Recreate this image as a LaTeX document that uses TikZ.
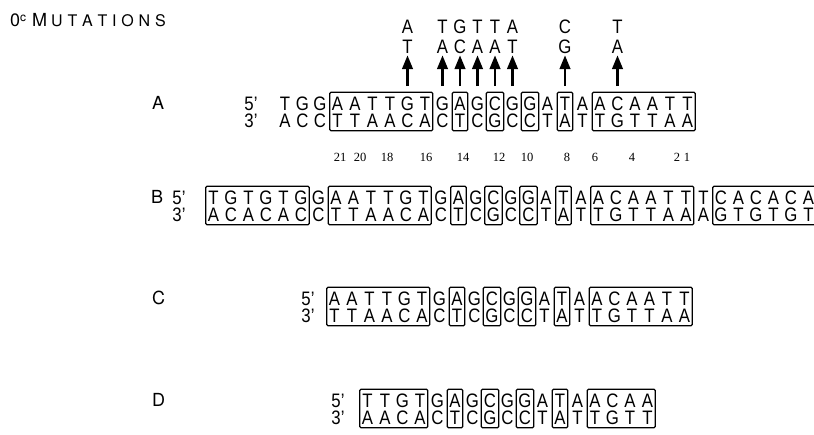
\documentclass[tikz,border=0pt]{standalone}
\usepackage{fontspec}
\setmainfont{TeX Gyre Heros}
\newfontfamily\seqfont[FakeStretch=0.86]{Liberation Sans}
\newfontfamily\numfont{Liberation Serif}
\usetikzlibrary{fit,arrows.meta}

\tikzset{
  base/.style={font=\seqfont\fontsize{19.5}{19.5}\selectfont, inner sep=0pt,
    minimum width=11pt, text height=14pt, text depth=0pt, minimum height=14pt},
  seqbox/.style={draw, line width=1.2pt, rounded corners=1.2pt,
    inner xsep=2pt, inner ysep=3.5pt},
  rowlabel/.style={font=\fontsize{18}{18}\selectfont, anchor=west, inner sep=0pt},
  posnum/.style={font=\numfont\fontsize{12.5}{12.5}\selectfont, inner sep=0pt},
  mutarrow/.style={line width=2.8pt, -{Triangle[length=14pt,width=10.5pt]}, shorten >=2pt}
}

% #1 row prefix, #2 x offset, #3 y of 5' strand, #4 first index, #5 list top/bottom
\newcommand\seqrow[5]{%
  \foreach \t/\b [count=\k from #4] in {#5} {
    \node[base] (#1t\k) at ({215+17.5*\k+#2},{#3}) {\t};
    \node[base] (#1b\k) at ({215+17.5*\k+#2},{#3+17}) {\b};
  }}

\begin{document}
\begin{tikzpicture}[x=1pt,y=-1pt]
\useasboundingbox (0,0) rectangle (814,434);
\clip (0,0) rectangle (814,434);

% title
\node[anchor=west, inner sep=0pt] (title) at (10,20)
  {\fontsize{18}{18}\selectfont 0\raisebox{4.5pt}{\fontsize{12}{12}\selectfont c}\hspace{6pt}M\kern4pt{\fontsize{16}{16}\selectfont U\kern4.8pt T\kern4.8pt A\kern4.8pt T\kern4.8pt I\kern4.8pt O\kern4.8pt N\kern4.8pt S}};

% row labels
\node[rowlabel] (labA) at (152,103) {A};
\node[rowlabel] (labB) at (151,197) {B};
\node[rowlabel] (labC) at (152,298) {C};
\node[rowlabel] (labD) at (152,400) {D};

% strand ends
\node[base] (A5) at (251,103) {5’};
\node[base] (A3) at (251,120) {3’};
\node[base] (B5) at (179,197) {5’};
\node[base] (B3) at (179,214) {3’};
\node[base] (C5) at (308,298) {5’};
\node[base] (C3) at (308,315) {3’};
\node[base] (D5) at (338,400) {5’};
\node[base] (D3) at (338,417) {3’};

% row A
\seqrow{A}{0}{103}{4}{T/A,G/C,G/C,A/T,A/T,T/A,T/A,G/C,T/A,G/C,A/T,G/C,C/G,G/C,G/C,A/T,T/A,A/T,A/T,C/G,A/T,A/T,T/A,T/A}
\node[seqbox, fit=(At7)(Ab12)] (Abox1) {};
\node[seqbox, fit=(At14)(Ab14)] (Abox2) {};
\node[seqbox, fit=(At16)(Ab16)] (Abox3) {};
\node[seqbox, fit=(At18)(Ab18)] (Abox4) {};
\node[seqbox, fit=(At20)(Ab20)] (Abox5) {};
\node[seqbox, fit=(At22)(Ab27)] (Abox6) {};

% mutations above row A
\foreach \k/\u/\l in {11/A/T,13/T/A,14/G/C,15/T/A,16/T/A,17/A/T,20/C/G,23/T/A} {
  \node[base] (mu\k) at ({215+17.5*\k},26) {\u};
  \node[base] (ml\k) at ({215+17.5*\k},46) {\l};
  \coordinate (tail\k) at ({215+17.5*\k},86);
  \draw[mutarrow] (tail\k) -- (ml\k.south);
}

% position numbers
\foreach \n/\x in {21/340,20/360,18/387,16/426,14/463,12/499,10/527,8/567,6/595,4/632,2/677,1/687} {
  \node[posnum] (num\n) at (\x,157) {\n};
}

% row B
\seqrow{B}{-1.5}{197}{0}{T/A,G/C,T/A,G/C,T/A,G/C,G/C,A/T,A/T,T/A,T/A,G/C,T/A,G/C,A/T,G/C,C/G,G/C,G/C,A/T,T/A,A/T,A/T,C/G,A/T,A/T,T/A,T/A,T/A,C/G,A/T,C/G,A/T,C/G,A/T}
\node[seqbox, fit=(Bt0)(Bb5)] (Bbox0) {};
\node[seqbox, fit=(Bt7)(Bb12)] (Bbox1) {};
\node[seqbox, fit=(Bt14)(Bb14)] (Bbox2) {};
\node[seqbox, fit=(Bt16)(Bb16)] (Bbox3) {};
\node[seqbox, fit=(Bt18)(Bb18)] (Bbox4) {};
\node[seqbox, fit=(Bt20)(Bb20)] (Bbox5) {};
\node[seqbox, fit=(Bt22)(Bb27)] (Bbox6) {};
\node[seqbox, fit=(Bt29)(Bb34)] (Bbox7) {};

% row C
\seqrow{C}{-3}{298}{7}{A/T,A/T,T/A,T/A,G/C,T/A,G/C,A/T,G/C,C/G,G/C,G/C,A/T,T/A,A/T,A/T,C/G,A/T,A/T,T/A,T/A}
\node[seqbox, fit=(Ct7)(Cb12)] (Cbox1) {};
\node[seqbox, fit=(Ct14)(Cb14)] (Cbox2) {};
\node[seqbox, fit=(Ct16)(Cb16)] (Cbox3) {};
\node[seqbox, fit=(Ct18)(Cb18)] (Cbox4) {};
\node[seqbox, fit=(Ct20)(Cb20)] (Cbox5) {};
\node[seqbox, fit=(Ct22)(Cb27)] (Cbox6) {};

% row D
\seqrow{D}{-5}{400}{9}{T/A,T/A,G/C,T/A,G/C,A/T,G/C,C/G,G/C,G/C,A/T,T/A,A/T,A/T,C/G,A/T,A/T}
\node[seqbox, fit=(Dt9)(Db12)] (Dbox1) {};
\node[seqbox, fit=(Dt14)(Db14)] (Dbox2) {};
\node[seqbox, fit=(Dt16)(Db16)] (Dbox3) {};
\node[seqbox, fit=(Dt18)(Db18)] (Dbox4) {};
\node[seqbox, fit=(Dt20)(Db20)] (Dbox5) {};
\node[seqbox, fit=(Dt22)(Db25)] (Dbox6) {};
\end{tikzpicture}
\end{document}
